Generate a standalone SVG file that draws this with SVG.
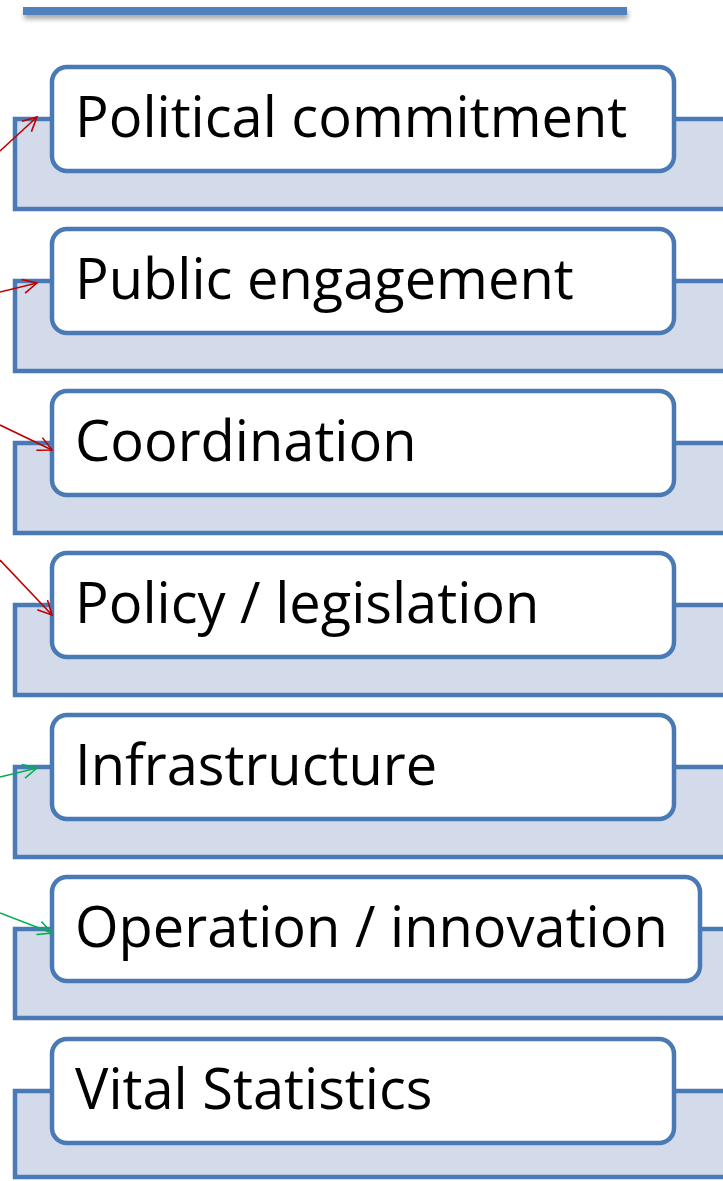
<svg xmlns="http://www.w3.org/2000/svg" width="723" height="1181" viewBox="0 0 723 1181">
<style>
.back{fill:#d3dbea;stroke:#4a7ab5;stroke-width:4.5}
.front{fill:#ffffff;stroke:#4a7ab5;stroke-width:4.5}
.lbl{font-family:"Open Sans","Noto Sans",sans-serif;font-size:56px;fill:#000}
.red{stroke:#c00000;stroke-width:1.6;fill:none}
.grn{stroke:#00b050;stroke-width:1.6;fill:none}
</style>
<defs>
<marker id="ahR" markerUnits="userSpaceOnUse" markerWidth="18" markerHeight="18" refX="15" refY="8" orient="auto" viewBox="0 0 18 16">
<path d="M1,1 L15,8 L1,15" fill="none" stroke="#c00000" stroke-width="1.6"/>
</marker>
<marker id="ahG" markerUnits="userSpaceOnUse" markerWidth="18" markerHeight="18" refX="15" refY="8" orient="auto" viewBox="0 0 18 16">
<path d="M1,1 L15,8 L1,15" fill="none" stroke="#00b050" stroke-width="1.6"/>
</marker>
<filter id="sh" x="-5%" y="-100%" width="110%" height="400%">
<feGaussianBlur in="SourceAlpha" stdDeviation="2.5"/>
<feOffset dx="1" dy="4" result="b"/>
<feFlood flood-color="#000" flood-opacity="0.35"/>
<feComposite in2="b" operator="in"/>
<feMerge><feMergeNode/><feMergeNode in="SourceGraphic"/></feMerge>
</filter>
</defs>
<rect id="title-bar" x="23" y="7" width="604" height="8" fill="#4f81bd" filter="url(#sh)"/>
<g id="node-political">
<rect class="back" x="15" y="119" width="720" height="90"/>
<rect class="front" x="52" y="67" width="622" height="104" rx="15"/>
<text class="lbl" x="75" y="137">Political commitment</text>
</g>
<g id="node-public">
<rect class="back" x="15" y="281" width="720" height="90"/>
<rect class="front" x="52" y="229" width="622" height="104" rx="15"/>
<text class="lbl" x="75" y="299">Public engagement</text>
</g>
<g id="node-coordination">
<rect class="back" x="15" y="443" width="720" height="90"/>
<rect class="front" x="52" y="391" width="622" height="104" rx="15"/>
<text class="lbl" x="75" y="461">Coordination</text>
</g>
<g id="node-policy">
<rect class="back" x="15" y="605" width="720" height="90"/>
<rect class="front" x="52" y="553" width="622" height="104" rx="15"/>
<text class="lbl" x="75" y="623">Policy / legislation</text>
</g>
<g id="node-infrastructure">
<rect class="back" x="15" y="767" width="720" height="90"/>
<rect class="front" x="52" y="715" width="622" height="104" rx="15"/>
<text class="lbl" x="75" y="785">Infrastructure</text>
</g>
<g id="node-operation">
<rect class="back" x="15" y="929" width="720" height="89"/>
<rect class="front" x="52" y="877" width="648" height="104" rx="15"/>
<text class="lbl" x="75" y="947">Operation / innovation</text>
</g>
<g id="node-vital">
<rect class="back" x="15" y="1091" width="720" height="86"/>
<rect class="front" x="52" y="1039" width="622" height="104" rx="15"/>
<text class="lbl" x="75" y="1109">Vital Statistics</text>
</g>
<g id="connectors">
<line class="red" x1="0" y1="151" x2="37" y2="117" marker-end="url(#ahR)"/>
<line class="red" x1="0" y1="292" x2="37" y2="283" marker-end="url(#ahR)"/>
<line class="red" x1="0" y1="425" x2="52" y2="450" marker-end="url(#ahR)"/>
<line class="red" x1="0" y1="560" x2="52" y2="615" marker-end="url(#ahR)"/>
<line class="grn" x1="0" y1="777" x2="37" y2="768" marker-end="url(#ahG)"/>
<line class="grn" x1="0" y1="913" x2="52" y2="933" marker-end="url(#ahG)"/>
</g>
</svg>
